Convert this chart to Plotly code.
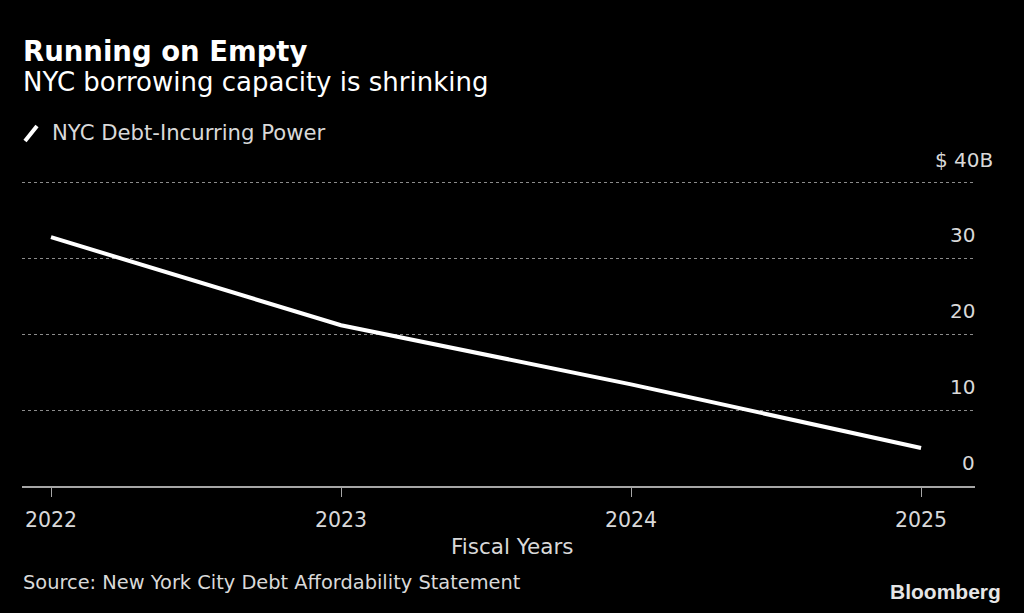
import plotly.graph_objects as go

# NYC debt-incurring power, $B, by fiscal year
years = [2022, 2023, 2024, 2025]
debt_power = [32.8, 21.2, 13.4, 5.0]

y_ticks = [0, 10, 20, 30, 40]
y_tick_labels = ["0", "10", "20", "30", "$ 40B"]

FONT = "DejaVu Sans"
GREY = "#d9d9d9"
W, H = 1024, 613
ML, MR, MT, MB = 22, 49, 175, 127

fig = go.Figure()
fig.add_trace(go.Scatter(
    x=years, y=debt_power, mode="lines",
    line=dict(color="white", width=4),
    name="NYC Debt-Incurring Power", showlegend=False,
))

fig.update_layout(
    width=W, height=H,
    paper_bgcolor="black", plot_bgcolor="black",
    margin=dict(l=ML, r=MR, t=MT, b=MB),
    font=dict(family=FONT, color=GREY, size=20),
    xaxis=dict(
        range=[2021.9, 2025.186], tickvals=years,
        showgrid=False, zeroline=False,
        showline=True, linecolor="#a6a6a6", linewidth=2,
        ticks="outside", ticklen=9, tickcolor="#a6a6a6", tickwidth=1,
        ticklabelstandoff=5,
        tickfont=dict(size=20.5, color=GREY),
    ),
    yaxis=dict(
        range=[0, 41], tickvals=y_ticks[1:], showticklabels=False,
        showgrid=True, gridcolor="#8c8c8c", gridwidth=1, griddash="dot",
        zeroline=False, showline=False, fixedrange=True,
    ),
)

# y labels sit above their gridlines, right-aligned to the plot edge
for v, lab in zip(y_ticks, y_tick_labels):
    fig.add_annotation(x=1, xref="paper", y=v, yref="y", text=lab,
                       xanchor="right", yanchor="bottom", yshift=9,
                       xshift=20 if lab.endswith("B") else 2,
                       showarrow=False, font=dict(size=20, color=GREY))


def px_to_paper(xp, yp):
    pw, ph = W - ML - MR, H - MT - MB
    return (xp - ML) / pw, (H - MB - yp) / ph


for xp, yp, txt, size, col in [
    (21, 51, "<b>Running on Empty</b>", 27.5, "white"),
    (21, 82, "NYC borrowing capacity is shrinking", 26, "white"),
    (50, 132, "NYC Debt-Incurring Power", 21.2, GREY),
    (21, 582, "Source: New York City Debt Affordability Statement", 19.4, GREY),
]:
    px, py = px_to_paper(xp, yp)
    fig.add_annotation(x=px, y=py, xref="paper", yref="paper", text=txt,
                       xanchor="left", yanchor="middle", showarrow=False,
                       font=dict(size=size, color=col))

# x axis title, centred on the page rather than the plot
px, py = px_to_paper(512, 546)
fig.add_annotation(x=px, y=py, xref="paper", yref="paper", text="Fiscal Years",
                   xanchor="center", yanchor="middle", showarrow=False,
                   font=dict(size=21.5, color=GREY))

px, py = px_to_paper(1003, 591)
fig.add_annotation(x=px, y=py, xref="paper", yref="paper", text="<b>Bloomberg</b>",
                   xanchor="right", yanchor="middle", showarrow=False,
                   font=dict(family="Liberation Sans", size=21, color="#e6e6e6"))

# legend swatch: short diagonal stroke
x0, y0 = px_to_paper(25, 141)
x1, y1 = px_to_paper(37, 126)
fig.add_shape(type="line", xref="paper", yref="paper", x0=x0, y0=y0, x1=x1, y1=y1,
              line=dict(color="white", width=4))

fig.write_html("out.html", config={"displayModeBar": False},
               post_script="document.body.style.margin='0';")
